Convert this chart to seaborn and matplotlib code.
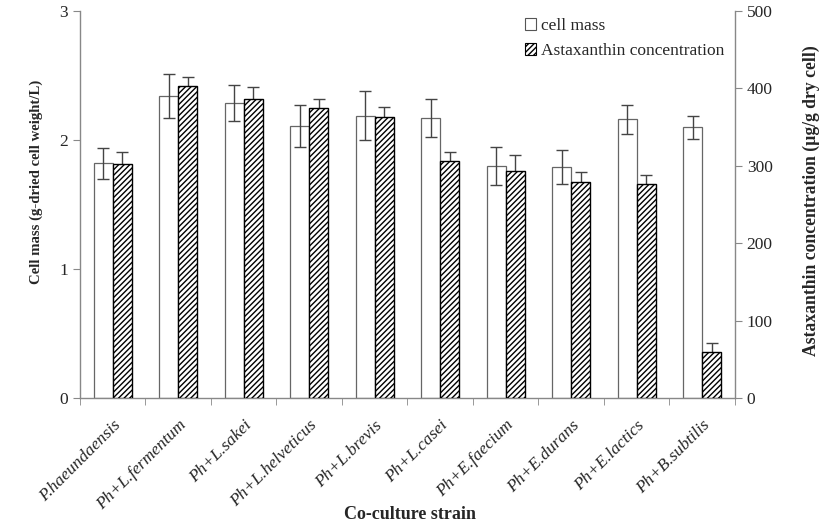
import matplotlib
matplotlib.use("Agg")
import matplotlib.pyplot as plt
import seaborn as sns
import pandas as pd
import numpy as np
from matplotlib.patches import Patch

strains = ["P.haeundaensis", "Ph+L.fermentum", "Ph+L.sakei", "Ph+L.helveticus",
           "Ph+L.brevis", "Ph+L.casei", "Ph+E.faecium", "Ph+E.durans",
           "Ph+E.lactics", "Ph+B.subtilis"]
cell_mass = [1.82, 2.34, 2.29, 2.11, 2.19, 2.17, 1.80, 1.79, 2.16, 2.10]
cell_mass_err = [0.12, 0.17, 0.14, 0.16, 0.19, 0.15, 0.15, 0.13, 0.11, 0.09]
astaxanthin = [302, 403, 386, 375, 363, 306, 294, 279, 276, 59]
astaxanthin_err = [16, 12, 16, 11, 13, 12, 20, 13, 12, 12]
series = ["cell mass", "Astaxanthin concentration"]

sns.set_style("ticks")
plt.rcParams["font.family"] = ["Liberation Serif", "DejaVu Serif"]
plt.rcParams["hatch.linewidth"] = 1.0

fig = plt.figure(figsize=(8.29, 5.29), dpi=100)
ax1 = fig.add_axes([0.0965, 0.2476, 0.790, 0.7314])
ax2 = ax1.twinx()

df1 = pd.DataFrame({"strain": strains, "value": cell_mass, "series": series[0]})
df2 = pd.DataFrame({"strain": strains, "value": astaxanthin, "series": series[1]})

sns.barplot(data=df1, x="strain", y="value", hue="series", hue_order=series,
            order=strains, dodge=True, width=0.58, errorbar=None,
            palette={series[0]: "white", series[1]: "white"},
            edgecolor="#666666", linewidth=0.9, ax=ax1, legend=False)
sns.barplot(data=df2, x="strain", y="value", hue="series", hue_order=series,
            order=strains, dodge=True, width=0.58, errorbar=None,
            palette={series[0]: "white", series[1]: "white"},
            edgecolor="black", linewidth=1.0, ax=ax2, legend=False)

p1 = [p for p in ax1.patches if p.get_height() > 0]
p2 = [p for p in ax2.patches if p.get_height() > 0]
for p in p2:
    p.set_hatch("//////")
    p.set_zorder(2)

x1 = [p.get_x() + p.get_width() / 2 for p in p1]
x2 = [p.get_x() + p.get_width() / 2 for p in p2]
ax1.errorbar(x1, cell_mass, yerr=cell_mass_err, fmt="none", ecolor="#444444",
             elinewidth=1.0, capsize=4, capthick=1.0, zorder=3)
ax2.errorbar(x2, astaxanthin, yerr=astaxanthin_err, fmt="none", ecolor="#444444",
             elinewidth=1.0, capsize=4, capthick=1.0, zorder=1)

ax1.set_ylim(0, 3)
ax2.set_ylim(0, 500)
ax1.set_xlim(-0.5, len(strains) - 0.5)
ax1.set_yticks([0, 1, 2, 3])
ax2.set_yticks([0, 100, 200, 300, 400, 500])

ax1.set_xticks(np.arange(len(strains)))
ax1.set_xticklabels(strains, rotation=45, ha="right", rotation_mode="anchor",
                    fontstyle="italic", fontsize=12.5)
ax1.tick_params(axis="x", length=0, pad=14)
ax1.set_xticks(np.arange(len(strains) + 1) - 0.5, minor=True)
ax1.tick_params(axis="x", which="minor", length=5, color="#888888", direction="out")

for ax in (ax1, ax2):
    ax.spines["top"].set_visible(False)
    for s in ax.spines.values():
        s.set_color("#888888")
        s.set_linewidth(1.0)
ax1.spines["right"].set_visible(False)
ax2.spines["left"].set_visible(False)
ax2.spines["bottom"].set_visible(False)
ax1.tick_params(axis="y", length=5, color="#888888", labelsize=12.5)
ax2.tick_params(axis="y", length=5, color="#888888", labelsize=12.5)

ax1.set_xlabel("Co-culture strain", fontsize=13, fontweight="bold")
ax1.xaxis.set_label_coords(0.504, -0.279)
ax1.set_ylabel("Cell mass (g-dried cell weight/L)", fontsize=10.6, fontweight="bold")
ax1.yaxis.set_label_coords(-0.056, 0.558)
ax2.set_ylabel("Astaxanthin concentration (µg/g dry cell)", fontsize=12.7,
               fontweight="bold")
ax2.yaxis.set_label_coords(1.104, 0.509)

handles = [Patch(facecolor="white", edgecolor="#555555", linewidth=0.8),
           Patch(facecolor="white", edgecolor="black", hatch="//////", linewidth=0.8)]
ax2.legend(handles, series, loc="upper right", bbox_to_anchor=(1.008, 1.022),
           frameon=False, fontsize=12.5, handlelength=0.65, handleheight=0.65,
           handletextpad=0.3, labelspacing=0.5)

fig.savefig("out.png", dpi=100)
